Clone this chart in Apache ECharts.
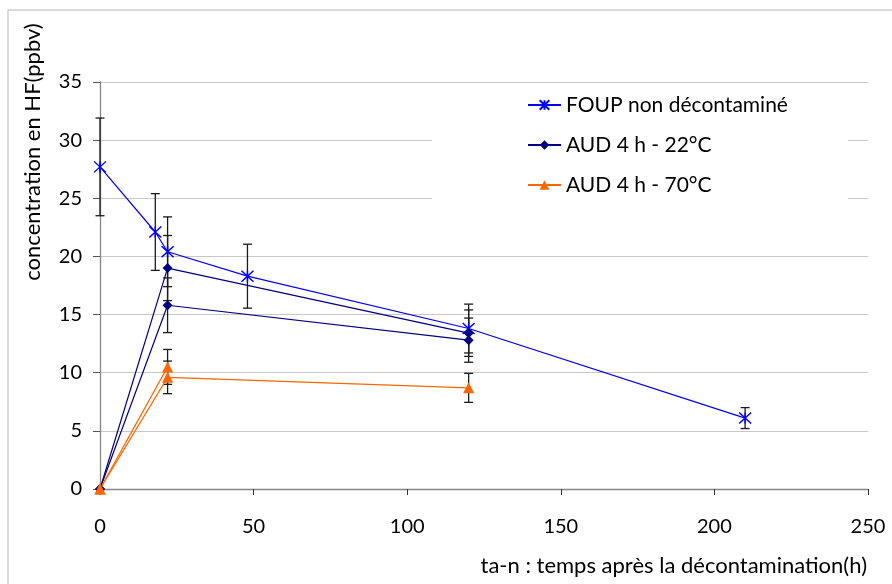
<!DOCTYPE html>
<html>
<head>
<meta charset="utf-8">
<script src="https://cdn.jsdelivr.net/npm/echarts@6/dist/echarts.min.js"></script>
<style>html,body{margin:0;padding:0;background:#fff}#c{width:892px;height:584px}</style>
</head>
<body>
<div id="c"></div>
<script>
// ---- data ----
var xTicks = [0, 50, 100, 150, 200, 250];
var yTicks = [0, 5, 10, 15, 20, 25, 30, 35];

var foupName = 'FOUP non décontaminé';
var foupX = [0, 18, 22, 48, 120, 210];
var foupY = [27.7, 22.1, 20.4, 18.3, 13.8, 6.1];
var foupErr = [4.2, 3.3, 3.0, 2.75, 2.1, 0.9];

var aud22Name = 'AUD 4 h - 22°C';
var aud22aX = [0, 22, 120];
var aud22aY = [0, 19.0, 13.4];
var aud22aErr = [0, 2.8, 2.0];
var aud22bX = [0, 22, 120];
var aud22bY = [0, 15.8, 12.8];
var aud22bErr = [0, 2.35, 1.9];

var aud70Name = 'AUD 4 h - 70°C';
var aud70aX = [0, 22];
var aud70aY = [0, 10.5];
var aud70aErr = [0, 1.5];
var aud70bX = [0, 22, 120];
var aud70bY = [0, 9.6, 8.7];
var aud70bErr = [0, 1.4, 1.25];

var xTitle = 'ta-n : temps après la décontamination(h)';
var yTitle = 'concentration en HF(ppbv)';

// ---- build ----
var FONT = 'Lato';
function pts(xs, ys) { return xs.map(function (x, i) { return [x, ys[i]]; }); }
function errs(xs, ys, es) {
  var out = [];
  xs.forEach(function (x, i) { if (es[i] > 0) out.push([x, ys[i] - es[i], ys[i] + es[i]]); });
  return out;
}
var errData = [].concat(
  errs(foupX, foupY, foupErr),
  errs(aud22aX, aud22aY, aud22aErr),
  errs(aud22bX, aud22bY, aud22bErr),
  errs(aud70aX, aud70aY, aud70aErr),
  errs(aud70bX, aud70bY, aud70bErr)
);

var BLUE = '#0000FF', NAVY = '#000080', ORANGE = '#FF6600';
var starPath = 'path://M0,0L10,10M10,0L0,10M5,0L5,10';

function lineSeries(name, data, color, symbol, size, extra) {
  var s = {
    type: 'line', name: name, data: data, z: 3,
    symbol: symbol, symbolSize: size,
    lineStyle: { color: color, width: 1.2 },
    itemStyle: { color: color },
    emphasis: { disabled: true },
    animation: false
  };
  if (extra) for (var k in extra) s[k] = extra[k];
  return s;
}

var chart = echarts.init(document.getElementById('c'));
chart.setOption({
  animation: false,
  backgroundColor: '#fff',
  grid: { left: 100, right: 24, top: 82, bottom: 95 },
  xAxis: {
    type: 'value', min: 0, max: 250, interval: 50,
    axisLine: { lineStyle: { color: '#868686', width: 1.3 } },
    axisTick: { show: true, length: 6, lineStyle: { color: '#333' } },
    axisLabel: { color: '#000', fontFamily: FONT, fontSize: 20, margin: 28 },
    splitLine: { show: false }
  },
  yAxis: {
    type: 'value', min: 0, max: 35, interval: 5,
    axisLine: { show: true, lineStyle: { color: '#868686', width: 1.3 } },
    axisTick: { show: true, length: 7, lineStyle: { color: '#555' } },
    axisLabel: { color: '#000', fontFamily: FONT, fontSize: 20, margin: 18 },
    splitLine: { show: true, lineStyle: { color: '#c8c8c8', width: 1.2 } }
  },
  legend: {
    data: [foupName, aud22Name, aud70Name],
    orient: 'vertical', left: 432, top: 85,
    padding: [9, 60, 32, 95],
    itemGap: 18, itemWidth: 33, itemHeight: 12,
    backgroundColor: '#fff',
    textStyle: { color: '#000', fontFamily: FONT, fontSize: 21, lineHeight: 22 },
    selectedMode: false
  },
  graphic: [
    { type: 'rect', shape: { x: 8, y: 10, width: 900, height: 600 }, style: { fill: 'none', stroke: '#d0d0d0', lineWidth: 1.5 }, z: -10, silent: true },
    { type: 'text', x: 33, y: 152, rotation: Math.PI / 2, style: { text: yTitle, fontFamily: FONT, fontSize: 22, fill: '#000', align: 'center', verticalAlign: 'middle' } },
    { type: 'text', x: 867, y: 566, style: { text: xTitle, fontFamily: FONT, fontSize: 22, fill: '#000', align: 'right', verticalAlign: 'middle' } }
  ],
  series: [
    {
      type: 'custom', name: 'err', z: 2, silent: true,
      encode: { x: 0, y: [1, 2] },
      data: errData,
      renderItem: function (params, api) {
        var x = api.value(0);
        var lo = api.coord([x, api.value(1)]);
        var hi = api.coord([x, api.value(2)]);
        var w = 4.5;
        var st = { stroke: '#1a1a1a', lineWidth: 1.3 };
        return {
          type: 'group', children: [
            { type: 'line', shape: { x1: lo[0], y1: lo[1], x2: hi[0], y2: hi[1] }, style: st },
            { type: 'line', shape: { x1: lo[0] - w, y1: lo[1], x2: lo[0] + w, y2: lo[1] }, style: st },
            { type: 'line', shape: { x1: hi[0] - w, y1: hi[1], x2: hi[0] + w, y2: hi[1] }, style: st }
          ]
        };
      },
      animation: false
    },
    lineSeries(foupName, pts(foupX, foupY), BLUE, starPath, [12, 11], { itemStyle: { color: BLUE, borderColor: BLUE, borderWidth: 1.4 } }),
    lineSeries(aud22Name, pts(aud22aX, aud22aY), NAVY, 'diamond', 10),
    lineSeries(aud22Name, pts(aud22bX, aud22bY), NAVY, 'diamond', 10),
    lineSeries(aud70Name, pts(aud70aX, aud70aY), ORANGE, 'triangle', 11),
    lineSeries(aud70Name, pts(aud70bX, aud70bY), ORANGE, 'triangle', 11)
  ]
});
</script>
</body>
</html>
